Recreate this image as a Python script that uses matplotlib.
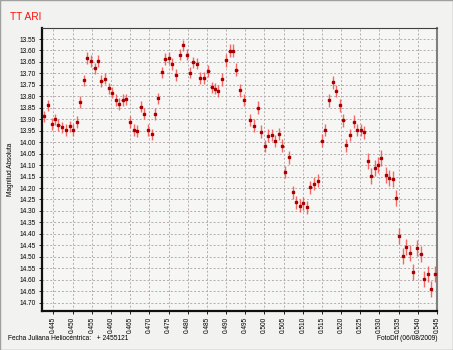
import numpy as np
import matplotlib
matplotlib.use("Agg")
from matplotlib import pyplot as plt

# fecha juliana heliocentrica - 2455121
hjd = [0.4426, 0.4436, 0.4445, 0.4454, 0.4463, 0.4473, 0.4482, 0.4492, 0.4501, 0.4511,
       0.4520, 0.4529, 0.4538, 0.4548, 0.4557, 0.4567, 0.4575, 0.4584, 0.4594, 0.4603,
       0.4612, 0.4621, 0.4630, 0.4640, 0.4649, 0.4659, 0.4668, 0.4677, 0.4687, 0.4696,
       0.4706, 0.4715, 0.4723, 0.4733, 0.4742, 0.4751, 0.4760, 0.4769, 0.4780, 0.4788,
       0.4797, 0.4807, 0.4815, 0.4825, 0.4833, 0.4843, 0.4854, 0.4862, 0.4871, 0.4880,
       0.4890, 0.4900, 0.4909, 0.4918, 0.4927, 0.4936, 0.4946, 0.4963, 0.4973, 0.4982,
       0.4992, 0.5001, 0.5010, 0.5019, 0.5028, 0.5038, 0.5047, 0.5054, 0.5065, 0.5075,
       0.5083, 0.5093, 0.5101, 0.5112, 0.5120, 0.5130, 0.5140, 0.5149, 0.5159, 0.5169,
       0.5178, 0.5187, 0.5196, 0.5206, 0.5213, 0.5224, 0.5233, 0.5242, 0.5251, 0.5260,
       0.5269, 0.5279, 0.5288, 0.5297, 0.5305, 0.5316, 0.5324, 0.5334, 0.5344, 0.5351,
       0.5361, 0.5370, 0.5380, 0.5388, 0.5398, 0.5407, 0.5416, 0.5426, 0.5434, 0.5445]
mag = [13.887, 13.839, 13.920, 13.900, 13.925, 13.935, 13.947, 13.931, 13.947, 13.913,
       13.825, 13.730, 13.633, 13.645, 13.678, 13.645, 13.733, 13.723, 13.765, 13.784,
       13.816, 13.834, 13.816, 13.813, 13.913, 13.946, 13.951, 13.845, 13.876, 13.947,
       13.966, 13.877, 13.809, 13.695, 13.637, 13.632, 13.660, 13.706, 13.618, 13.578,
       13.618, 13.697, 13.652, 13.658, 13.720, 13.720, 13.690, 13.761, 13.767, 13.777,
       13.725, 13.643, 13.601, 13.601, 13.684, 13.774, 13.816, 13.903, 13.928, 13.850,
       13.954, 14.017, 13.972, 13.969, 13.995, 13.964, 14.016, 14.130, 14.066, 14.219,
       14.263, 14.277, 14.267, 14.284, 14.197, 14.181, 14.168, 13.994, 13.947, 13.817,
       13.738, 13.777, 13.839, 13.905, 14.014, 13.969, 13.911, 13.947, 13.947, 13.957,
       14.082, 14.149, 14.112, 14.100, 14.071, 14.143, 14.156, 14.162, 14.242, 14.408,
       14.497, 14.457, 14.485, 14.565, 14.462, 14.489, 14.597, 14.575, 14.642, 14.575]
err = [0.025] * 50 + [0.028] * 40 + [0.035] * 20

yticks = np.round(np.arange(13.55, 14.701, 0.05), 2)
xticks = np.round(np.arange(0.445, 0.5451, 0.005), 3)

plt.rcParams['font.family'] = ['Liberation Sans', 'DejaVu Sans']

fig = plt.figure(figsize=(4.53, 3.5), dpi=100, facecolor='#f2f2f0')
ax = fig.add_axes([0.0927, 0.1123, 0.8720, 0.8077], facecolor='#f6f6f4')

# barras de error (mas claras) y luego los puntos
ax.errorbar(hjd, mag, yerr=err, fmt='none', ecolor='#f45050', elinewidth=1.0,
            alpha=0.85, capsize=0, zorder=3)
ax.errorbar(hjd, mag, xerr=0.00028, fmt='s', ms=1.9, mfc='#a80000', mec='#a80000',
            ecolor='#e02020', elinewidth=0.8, capsize=0, zorder=4)

ax.set_xlim(0.4420, 0.5450)
ax.set_ylim(14.735, 13.502)
ax.set_xticks(xticks)
ax.set_xticklabels(['%.3f' % v for v in xticks], rotation=90, fontsize=4.7)
ax.set_yticks(yticks)
ax.set_yticklabels(['%.2f' % v for v in yticks], fontsize=4.7)
ax.tick_params(length=2.5, width=0.6, pad=2)
ax.grid(True, color='#b4acac', linestyle=(0, (2, 2)), linewidth=0.7)

for s in ['left', 'bottom']:
    ax.spines[s].set_linewidth(1.6)
    ax.spines[s].set_color('#101010')
ax.spines['top'].set_linewidth(0.8)
ax.spines['top'].set_color('#404040')
ax.spines['right'].set_linewidth(1.5)
ax.spines['right'].set_color('#808080')

ax.set_ylabel('Magnitud Absoluta', fontsize=4.7, labelpad=4)

fig.text(0.022, 0.965, 'TT ARI', color='#ff1010', fontsize=7.3, va='top', ha='left')
fig.text(0.018, 0.034, 'Fecha Juliana Heliocéntrica:   + 2455121', fontsize=4.8, va='center')
fig.text(0.966, 0.034, 'FotoDif (06/08/2009)', fontsize=4.8, va='center', ha='right')

fig.patches.append(plt.Rectangle((0, 0), 1, 1, transform=fig.transFigure, fill=False,
                                 edgecolor='#a0a0a0', linewidth=1.0))

fig.savefig('out.png', dpi=100, facecolor=fig.get_facecolor())
